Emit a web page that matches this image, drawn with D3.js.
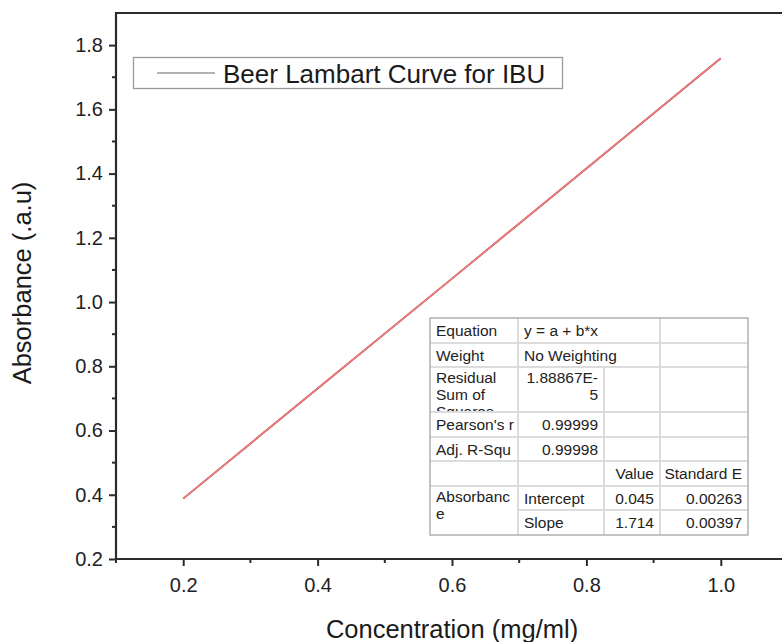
<!DOCTYPE html>
<html>
<head>
<meta charset="utf-8">
<script src="https://cdn.jsdelivr.net/npm/d3@7"></script>
<style>
  html, body { margin: 0; padding: 0; background: #fff; }
  svg { display: block; font-family: "Liberation Sans", Arial, sans-serif; }
</style>
</head>
<body>
<svg id="chart" width="782" height="642"></svg>
<script>
// ---- data ----
const concentration = [0.2, 0.4, 0.6, 0.8, 1.0];
const absorbance = [0.388, 0.731, 1.073, 1.416, 1.759];
const xTicks = [0.2, 0.4, 0.6, 0.8, 1.0];
const yTicks = [0.2, 0.4, 0.6, 0.8, 1.0, 1.2, 1.4, 1.6, 1.8];
const legendLabel = "Beer Lambart Curve for IBU";
const xTitle = "Concentration (mg/ml)";
const yTitle = "Absorbance (.a.u)";
const tableCol1 = ["Equation", "Weight", "Residual\nSum of\nSquares", "Pearson's r", "Adj. R-Squ", "", "Absorbanc\ne"];
const tableCol2 = ["y = a + b*x", "No Weighting", "1.88867E-\n5", "0.99999", "0.99998", "", "Intercept", "Slope"];
const tableHeader = ["Value", "Standard E"];
const paramValue = ["0.045", "1.714"];
const paramStdErr = ["0.00263", "0.00397"];

// ---- layout ----
const W = 782, H = 642;
const svg = d3.select("#chart");
const plotLeft = 116, plotTop = 13, plotBottom = 559;
const x = d3.scaleLinear().domain([0.1, 1.1]).range([plotLeft, 788]);
const y = d3.scaleLinear().domain([0.2, 1.9]).range([plotBottom, plotTop]);
const axisColor = "#2b2b2b";

// data lines
const line = d3.line().x((d, i) => x(concentration[i])).y(d => y(d));
svg.append("path").datum(absorbance)
  .attr("d", line).attr("fill", "none")
  .attr("stroke", "#a04848").attr("stroke-width", 1.9);
svg.append("path").datum(absorbance)
  .attr("d", line).attr("fill", "none")
  .attr("stroke", "#f47c7c").attr("stroke-width", 1.5);

// axes
const yAxis = d3.axisLeft(y).tickValues(yTicks).tickFormat(d3.format(".1f")).tickSize(7).tickPadding(6);
const gy = svg.append("g").attr("transform", `translate(${plotLeft},0)`).call(yAxis);
const xAxis = d3.axisBottom(x).tickValues(xTicks).tickFormat(d3.format(".1f")).tickSize(7).tickPadding(12);
const gx = svg.append("g").attr("transform", `translate(0,${plotBottom})`).call(xAxis);
[gx, gy].forEach(g => {
  g.select(".domain").remove();
  g.selectAll(".tick line").attr("stroke", axisColor).attr("stroke-width", 2);
  g.selectAll(".tick text").attr("fill", "#222").style("font-size", "20px")
    .style("font-family", "'Liberation Sans', Arial, sans-serif");
});
// minor ticks
const yMinor = [0.3, 0.5, 0.7, 0.9, 1.1, 1.3, 1.5, 1.7];
svg.append("g").selectAll("line").data(yMinor).join("line")
  .attr("x1", plotLeft - 4).attr("x2", plotLeft).attr("y1", d => y(d)).attr("y2", d => y(d))
  .attr("stroke", axisColor).attr("stroke-width", 2);
const xMinor = [0.1, 0.3, 0.5, 0.7, 0.9];
svg.append("g").selectAll("line").data(xMinor).join("line")
  .attr("y1", plotBottom).attr("y2", plotBottom + 4).attr("x1", d => x(d)).attr("x2", d => x(d))
  .attr("stroke", axisColor).attr("stroke-width", 2);

// frame lines
svg.append("line").attr("x1", plotLeft).attr("x2", plotLeft).attr("y1", plotTop).attr("y2", plotBottom + 1)
  .attr("stroke", axisColor).attr("stroke-width", 2.2);
svg.append("line").attr("x1", plotLeft - 1).attr("x2", W).attr("y1", plotBottom).attr("y2", plotBottom)
  .attr("stroke", axisColor).attr("stroke-width", 2.2);
svg.append("line").attr("x1", plotLeft - 1).attr("x2", W).attr("y1", plotTop).attr("y2", plotTop)
  .attr("stroke", axisColor).attr("stroke-width", 2.2);

// titles
svg.append("text").attr("x", 452).attr("y", 638).attr("text-anchor", "middle")
  .style("font-size", "25.5px").attr("fill", "#1a1a1a").text(xTitle);
svg.append("text").attr("transform", "translate(31,283) rotate(-90)").attr("text-anchor", "middle")
  .style("font-size", "25.5px").attr("fill", "#1a1a1a").text(yTitle);

// legend
svg.append("rect").attr("x", 133.5).attr("y", 57.5).attr("width", 429).attr("height", 31)
  .attr("fill", "#fff").attr("stroke", "#9a9a9a").attr("stroke-width", 1.3);
svg.append("line").attr("x1", 157).attr("x2", 215).attr("y1", 73).attr("y2", 73)
  .attr("stroke", "#999").attr("stroke-width", 1.5);
svg.append("text").attr("x", 223).attr("y", 82.5).style("font-size", "26px").attr("fill", "#1a1a1a")
  .text(legendLabel);

// fit table
const cx = [430, 518, 604, 660, 748];
const ry = [318, 343, 367, 412, 437, 461, 486, 510, 535];
const tg = svg.append("g");
const gridC = "#dcdcdc";
tg.append("rect").attr("x", cx[0]).attr("y", ry[0]).attr("width", cx[4] - cx[0]).attr("height", ry[8] - ry[0])
  .attr("fill", "#fff");
for (let i = 1; i < 8; i++) {
  const x0 = (i === 7) ? cx[1] : cx[0];
  tg.append("line").attr("x1", x0).attr("x2", cx[4]).attr("y1", ry[i]).attr("y2", ry[i])
    .attr("stroke", gridC).attr("stroke-width", 2);
}
tg.append("line").attr("x1", cx[1]).attr("x2", cx[1]).attr("y1", ry[0]).attr("y2", ry[8]).attr("stroke", gridC).attr("stroke-width", 2);
tg.append("line").attr("x1", cx[2]).attr("x2", cx[2]).attr("y1", ry[2]).attr("y2", ry[8]).attr("stroke", gridC).attr("stroke-width", 2);
tg.append("line").attr("x1", cx[3]).attr("x2", cx[3]).attr("y1", ry[0]).attr("y2", ry[8]).attr("stroke", gridC).attr("stroke-width", 2);
tg.append("rect").attr("x", cx[0]).attr("y", ry[0]).attr("width", cx[4] - cx[0]).attr("height", ry[8] - ry[0])
  .attr("fill", "none").attr("stroke", "#b0b0b0").attr("stroke-width", 1.5);

const fs = 15.5, lh = 17, tc = "#222";
function cellText(txt, r0, r1, c, align, opts) {
  if (!txt) return;
  const lines = txt.split("\n");
  const clipId = "clip" + r0 + "_" + c;
  const xr = opts && opts.wide ? cx[c + 2] : cx[c + 1];
  svg.append("clipPath").attr("id", clipId).append("rect")
    .attr("x", cx[c]).attr("y", ry[r0]).attr("width", xr - cx[c]).attr("height", ry[r1] - ry[r0] - 1);
  const single = lines.length === 1;
  const baseY = single && r1 - r0 === 1 ? (ry[r0] + ry[r1]) / 2 + 5.5 : ry[r0] + 16;
  const t = tg.append("text").attr("clip-path", `url(#${clipId})`)
    .style("font-size", fs + "px").attr("fill", tc)
    .attr("text-anchor", align === "right" ? "end" : "start");
  lines.forEach((ln, k) => {
    t.append("tspan").attr("x", align === "right" ? xr - 6 : cx[c] + 6)
      .attr("y", baseY + k * lh).text(ln);
  });
}
cellText(tableCol1[0], 0, 1, 0, "left");
cellText(tableCol1[1], 1, 2, 0, "left");
cellText(tableCol1[2], 2, 3, 0, "left");
cellText(tableCol1[3], 3, 4, 0, "left");
cellText(tableCol1[4], 4, 5, 0, "left");
cellText(tableCol1[6], 6, 8, 0, "left");
cellText(tableCol2[0], 0, 1, 1, "left", { wide: true });
cellText(tableCol2[1], 1, 2, 1, "left", { wide: true });
cellText(tableCol2[2], 2, 3, 1, "right");
cellText(tableCol2[3], 3, 4, 1, "right");
cellText(tableCol2[4], 4, 5, 1, "right");
cellText(tableCol2[6], 6, 7, 1, "left");
cellText(tableCol2[7], 7, 8, 1, "left");
cellText(tableHeader[0], 5, 6, 2, "right");
cellText(tableHeader[1], 5, 6, 3, "right");
paramValue.forEach((v, i) => cellText(v, 6 + i, 7 + i, 2, "right"));
paramStdErr.forEach((v, i) => cellText(v, 6 + i, 7 + i, 3, "right"));
</script>
</body>
</html>
